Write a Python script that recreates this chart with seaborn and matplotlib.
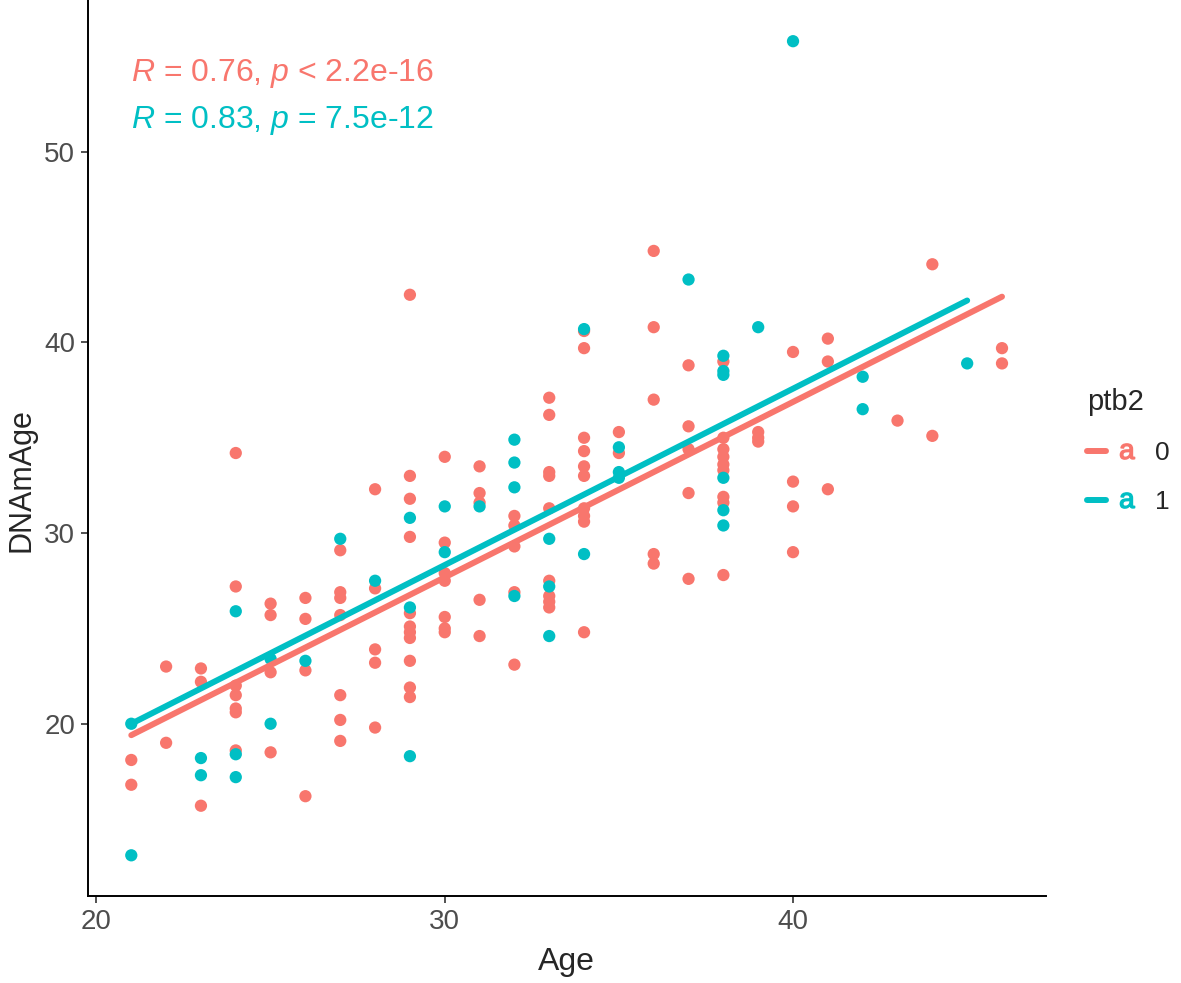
import pandas as pd
import matplotlib
matplotlib.use("Agg")
import matplotlib.pyplot as plt
import seaborn as sns
from matplotlib.lines import Line2D
from matplotlib.legend_handler import HandlerTuple

# ptb2 = 0
age_0 = ([21] * 2 + [22] * 2 + [23] * 3 + [24] * 7 + [25] * 4 + [26] * 4 + [27] * 7 + [28] * 5
         + [29] * 11 + [30] * 7 + [31] * 5 + [32] * 5 + [33] * 9 + [34] * 10 + [35] * 2 + [36] * 5
         + [37] * 5 + [38] * 9 + [39] * 3 + [40] * 4 + [41] * 3 + [43] + [44] * 2 + [46] * 2)
dnam_0 = [18.1, 16.8,
          23.0, 19.0,
          22.9, 22.2, 15.7,
          34.2, 27.2, 22.0, 21.5, 20.8, 20.6, 18.6,
          26.3, 25.7, 22.7, 18.5,
          26.6, 25.5, 22.8, 16.2,
          29.1, 26.9, 26.6, 25.7, 21.5, 20.2, 19.1,
          32.3, 27.1, 23.9, 23.2, 19.8,
          42.5, 33.0, 31.8, 29.8, 25.8, 25.1, 24.8, 24.5, 23.3, 21.9, 21.4,
          34.0, 29.5, 27.9, 27.5, 25.6, 25.0, 24.8,
          33.5, 32.1, 31.6, 26.5, 24.6,
          30.9, 30.4, 29.3, 26.9, 23.1,
          37.1, 36.2, 33.2, 33.0, 31.3, 27.5, 26.7, 26.4, 26.1,
          40.6, 39.7, 35.0, 34.3, 33.5, 33.0, 31.3, 30.9, 30.6, 24.8,
          35.3, 34.2,
          44.8, 40.8, 37.0, 28.9, 28.4,
          38.8, 35.6, 34.4, 32.1, 27.6,
          39.0, 35.0, 34.4, 34.0, 33.6, 33.3, 31.9, 31.6, 27.8,
          35.3, 35.0, 34.8,
          39.5, 32.7, 31.4, 29.0,
          40.2, 39.0, 32.3,
          35.9,
          44.1, 35.1,
          39.7, 38.9]

# ptb2 = 1
age_1 = ([21] * 2 + [23] * 2 + [24] * 3 + [25] * 2 + [26] + [27] + [28] + [29] * 3 + [30] * 2
         + [31] + [32] * 4 + [33] * 3 + [34] * 2 + [35] * 3 + [37] + [38] * 6 + [39] + [40]
         + [42] * 2 + [45])
dnam_1 = [20.0, 13.1,
          18.2, 17.3,
          25.9, 18.4, 17.2,
          23.4, 20.0,
          23.3,
          29.7,
          27.5,
          30.8, 26.1, 18.3,
          31.4, 29.0,
          31.4,
          34.9, 33.7, 32.4, 26.7,
          29.7, 27.2, 24.6,
          40.7, 28.9,
          34.5, 33.2, 32.9,
          43.3,
          39.3, 38.5, 38.3, 32.9, 31.2, 30.4,
          40.8,
          55.8,
          38.2, 36.5,
          38.9]

# fitted lines as shown in the reference (ends of each group's age range)
fit_age_0 = [21, 46]
fit_val_0 = [19.4, 42.4]
fit_age_1 = [21, 45]
fit_val_1 = [20.0, 42.2]

groups = ["0", "1"]
colors = ["#F8766D", "#00BFC4"]
cor_labels = [r"$\mathit{R}$ = 0.76, $\mathit{p}$ < 2.2e-16",
              r"$\mathit{R}$ = 0.83, $\mathit{p}$ = 7.5e-12"]

df = pd.concat([
    pd.DataFrame({"Age": age_0, "DNAmAge": dnam_0, "ptb2": "0"}),
    pd.DataFrame({"Age": age_1, "DNAmAge": dnam_1, "ptb2": "1"}),
], ignore_index=True)
fits = pd.concat([
    pd.DataFrame({"Age": fit_age_0, "DNAmAge": fit_val_0, "ptb2": "0"}),
    pd.DataFrame({"Age": fit_age_1, "DNAmAge": fit_val_1, "ptb2": "1"}),
], ignore_index=True)

sns.set_style("ticks")
plt.rcParams["font.family"] = ["Liberation Sans", "DejaVu Sans"]
plt.rcParams["mathtext.fontset"] = "custom"
plt.rcParams["mathtext.rm"] = "Liberation Sans"
plt.rcParams["mathtext.it"] = "Liberation Sans:italic"

fig = plt.figure(figsize=(11.81, 9.83), dpi=100)
ax = fig.add_axes([0.0743, 0.0885, 0.811, 0.911])

sns.scatterplot(data=df, x="Age", y="DNAmAge", hue="ptb2", hue_order=groups,
                palette=colors, s=78, linewidth=0, legend=False, ax=ax, zorder=2)
sns.lineplot(data=fits, x="Age", y="DNAmAge", hue="ptb2", hue_order=groups,
             palette=colors, lw=4.3, legend=False, ax=ax, zorder=3)

# correlation labels, top-left of the data range
xmin = df["Age"].min()
ax.text(xmin, 53.7, cor_labels[0], color=colors[0], fontsize=23, va="baseline", ha="left")
ax.text(xmin, 51.25, cor_labels[1], color=colors[1], fontsize=23, va="baseline", ha="left")

xr = df["Age"].max() - df["Age"].min()
yr = df["DNAmAge"].max() - df["DNAmAge"].min()
ax.set_xlim(df["Age"].min() - 0.05 * xr, df["Age"].max() + 0.05 * xr)
ax.set_ylim(df["DNAmAge"].min() - 0.05 * yr, df["DNAmAge"].max() + 0.05 * yr)
ax.set_xticks([20, 30, 40])
ax.set_yticks([20, 30, 40, 50])
ax.set_xlabel("Age", fontsize=23, labelpad=9)
ax.set_ylabel("DNAmAge", fontsize=22)
ax.yaxis.set_label_coords(-0.053, 0.464)
ax.tick_params(axis="both", labelsize=20, labelcolor="#4D4D4D", color="#333333",
               length=5, width=1.2, pad=4)
for side in ["left", "bottom"]:
    ax.spines[side].set_linewidth(1.4)
    ax.spines[side].set_color("black")
sns.despine(ax=ax)

handles = [(Line2D([], [], color=c, lw=4.3),
            Line2D([], [], color=c, marker=r"$\mathrm{a}$", markersize=11, linestyle="none"))
           for c in colors]
fig.legend(handles, groups, title="ptb2", loc="center left", bbox_to_anchor=(0.9, 0.541),
           frameon=False, fontsize=19, title_fontsize=21, handlelength=1.9,
           handletextpad=0.7, handler_map={tuple: HandlerTuple(ndivide=None)},
           labelspacing=0.95, alignment="left")

fig.savefig("out.png", dpi=100)
